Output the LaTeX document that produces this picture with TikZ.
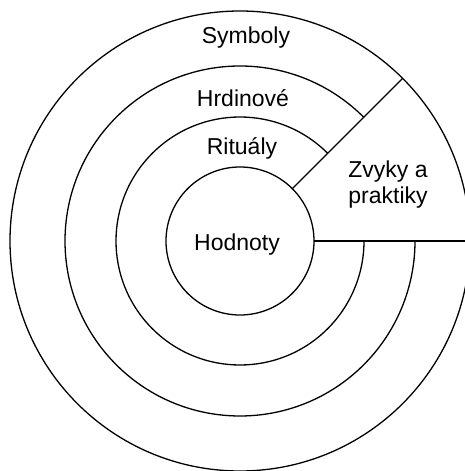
\documentclass[tikz,border=0pt]{standalone}
\usepackage{fontspec}
\setmainfont{Liberation Sans}
\begin{document}
\begin{tikzpicture}[x=1pt,y=1pt,
  ring/.style={draw, circle, line width=1.3pt, inner sep=0pt, outer sep=0pt},
  lbl/.style={font=\fontsize{23}{26}\selectfont, inner sep=0pt, align=center},
  line/.style={line width=1.3pt}]
\useasboundingbox (0,0) rectangle (465,471);
\clip (0,0) rectangle (465,471);
\coordinate (c) at (240,230);
\node[ring, minimum size=148pt] (inner) at (c) {};
\node[ring, minimum size=460pt] (outer) at (c) {};
\draw[line] ([shift={(45:124)}]c) arc[start angle=45, end angle=360, radius=124];
\draw[line] ([shift={(45:175)}]c) arc[start angle=45, end angle=360, radius=175];
\draw[line] (inner.45) -- (outer.45);
\draw[line] (inner.east) -- (outer.east);
\node[lbl] (sym) at (246,433) {Symboly};
\node[lbl] (hrd) at (243,373) {Hrdinové};
\node[lbl] (rit) at (242,323) {Rituály};
\node[lbl] (hod) at (237,226) {Hodnoty};
\node[lbl] (zvy) at (388,286) {Zvyky a\\praktiky};
\end{tikzpicture}
\end{document}
